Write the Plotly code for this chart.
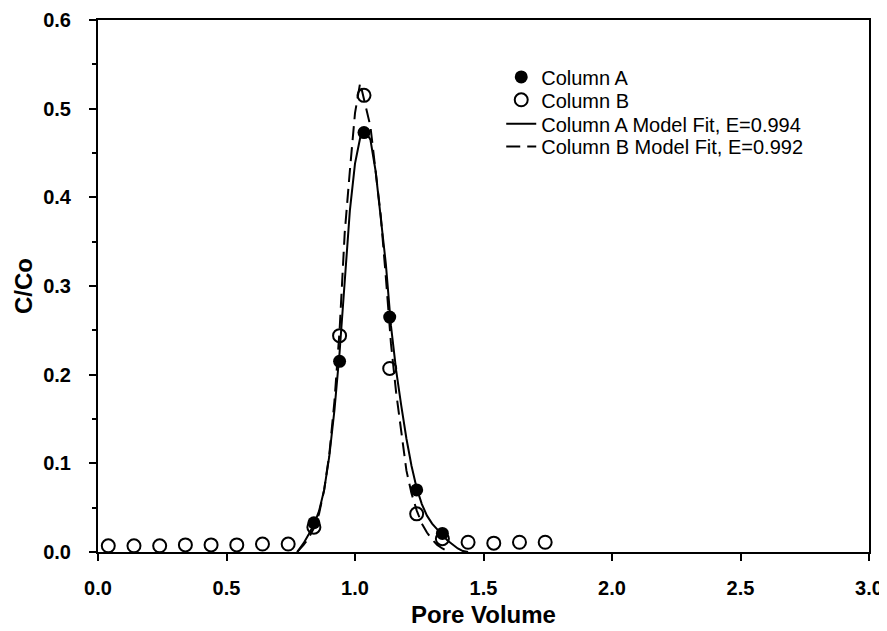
import plotly.graph_objects as go

# ---- data ----
x_A = [0.84, 0.94, 1.035, 1.135, 1.24, 1.34]
y_A = [0.033, 0.215, 0.473, 0.265, 0.070, 0.021]

x_B = [0.04, 0.14, 0.24, 0.34, 0.44, 0.54, 0.64, 0.74, 0.84, 0.94, 1.035, 1.135,
       1.24, 1.34, 1.44, 1.54, 1.64, 1.74]
y_B = [0.007, 0.007, 0.007, 0.008, 0.008, 0.008, 0.009, 0.009, 0.028, 0.244, 0.515, 0.207,
       0.043, 0.015, 0.011, 0.010, 0.011, 0.011]

x_fitA = [0.775, 0.80, 0.82, 0.84, 0.86, 0.88, 0.90, 0.92, 0.94, 0.96, 0.98, 1.00, 1.02, 1.04,
          1.06, 1.08, 1.10, 1.12, 1.14, 1.16, 1.18, 1.20, 1.22, 1.24, 1.26, 1.28, 1.30, 1.32,
          1.34, 1.36, 1.38, 1.40, 1.42, 1.44]
y_fitA = [0.000, 0.010, 0.020, 0.031, 0.046, 0.070, 0.108, 0.160, 0.225, 0.310, 0.385, 0.438,
          0.467, 0.475, 0.465, 0.430, 0.380, 0.325, 0.255, 0.205, 0.165, 0.128, 0.097, 0.072,
          0.054, 0.041, 0.032, 0.025, 0.019, 0.013, 0.008, 0.004, 0.001, 0.000]

x_fitB = [0.775, 0.80, 0.82, 0.84, 0.86, 0.88, 0.90, 0.92, 0.94, 0.96, 0.98, 1.00, 1.02,
          1.04, 1.06, 1.08, 1.10, 1.12, 1.14, 1.16, 1.18, 1.20, 1.22, 1.24, 1.26, 1.28,
          1.30, 1.32, 1.34, 1.36]
y_fitB = [0.000, 0.008, 0.016, 0.027, 0.043, 0.070, 0.110, 0.170, 0.250, 0.360, 0.430, 0.495,
          0.529, 0.505, 0.480, 0.430, 0.380, 0.310, 0.235, 0.180, 0.135, 0.092, 0.066, 0.047,
          0.032, 0.022, 0.014, 0.008, 0.004, 0.001]

names = ["Column A", "Column B", "Column A Model Fit, E=0.994", "Column B Model Fit, E=0.992"]
x_ticks = [0.0, 0.5, 1.0, 1.5, 2.0, 2.5, 3.0]
y_ticks = [0.0, 0.1, 0.2, 0.3, 0.4, 0.5, 0.6]

FONT = "Liberation Sans, Arial, sans-serif"

fig = go.Figure()
fig.add_trace(go.Scatter(x=x_fitA, y=y_fitA, mode="lines", name=names[2], legend="legend3",
                         line=dict(color="black", width=2)))
fig.add_trace(go.Scatter(x=x_fitB, y=y_fitB, mode="lines", name=names[3], legend="legend4",
                         line=dict(color="black", width=2, dash="14px,7px")))
fig.add_trace(go.Scatter(x=x_B, y=y_B, mode="markers", name=names[1], legend="legend2",
                         marker=dict(symbol="circle-open", size=13, color="black",
                                     line=dict(width=2, color="black"))))
fig.add_trace(go.Scatter(x=x_A, y=y_A, mode="markers", name=names[0], legend="legend",
                         marker=dict(symbol="circle", size=13, color="black")))

leg_x = 0.523
rows = [0.893, 0.850, 0.805, 0.762]
def leg(y):
    return dict(x=leg_x, y=y, xanchor="left", yanchor="middle", bgcolor="rgba(0,0,0,0)",
                font=dict(family=FONT, size=20, color="black"), borderwidth=0, visible=True)

# the page body adds an 8px offset, so the figure is sized to fit inside the window
fig.update_layout(
    width=879, height=623,
    margin=dict(l=90, r=18, t=12, b=79),
    paper_bgcolor="white", plot_bgcolor="white",
    font=dict(family=FONT, color="black"),
    showlegend=True,
    legend=leg(rows[0]), legend2=leg(rows[1]), legend3=leg(rows[2]), legend4=leg(rows[3]),
    xaxis=dict(range=[0, 3], tickvals=x_ticks, ticktext=[f"{v:.1f}" for v in x_ticks],
               automargin=False,
               showgrid=False, zeroline=False, showline=True, mirror=True,
               linecolor="black", linewidth=2, ticks="outside", ticklen=7, tickwidth=2,
               tickcolor="black", ticklabelstandoff=10,
               tickfont=dict(family=FONT, size=20, color="black", weight="bold"),
               title=dict(text="<b>Pore Volume</b>", font=dict(family=FONT, size=24),
                          standoff=8)),
    yaxis=dict(range=[0, 0.6], tickvals=y_ticks, ticktext=[f"{v:.1f}" for v in y_ticks],
               automargin=False,
               showgrid=False, zeroline=False, showline=True, mirror=True,
               linecolor="black", linewidth=2, ticks="outside", ticklen=7, tickwidth=2,
               tickcolor="black", ticklabelstandoff=14,
               minor=dict(dtick=0.05, ticks="outside", ticklen=4, tickwidth=1.5,
                          tickcolor="black"),
               tickfont=dict(family=FONT, size=20, color="black", weight="bold"),
               title=dict(text="<b>C/Co</b>", font=dict(family=FONT, size=24),
                          standoff=4)),
)

fig.write_html("out.html")
